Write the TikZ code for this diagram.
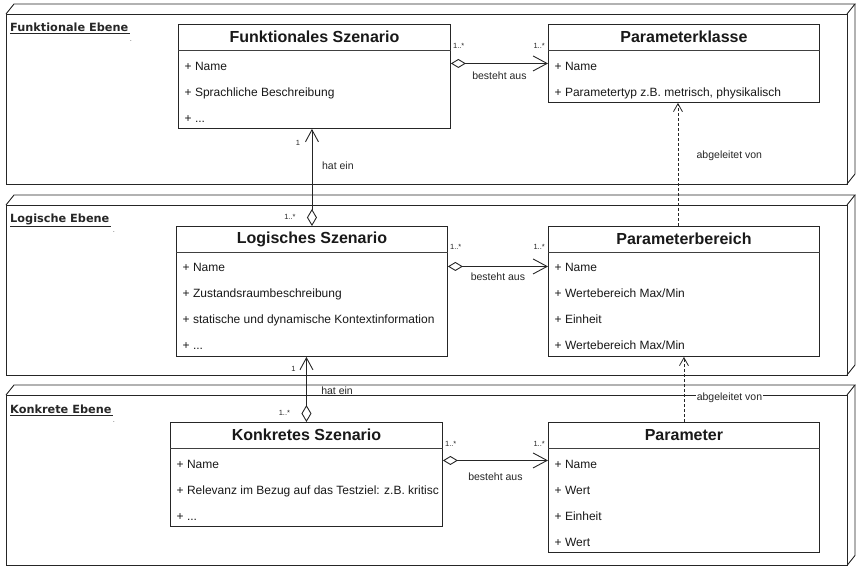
\documentclass[tikz,border=0pt]{standalone}
\usepackage{fontspec}
\setmainfont{Liberation Sans}
\newfontfamily\ebenefont{DejaVu Sans}
\usetikzlibrary{arrows.meta,calc}

% one layer drawn as a flat 3D box: front face, top face, right face
\newcommand\ebenebox[4]{%
  \draw[layerline] (#1,#2) rectangle (#3,#4);
  \draw[layerline] (#1,#2) -- (#1+8,#2-10) -- (#3+8,#2-10) -- (#3,#2);
  \draw[layerline] (#3+8,#2-10) -- (#3+8,#4-10) -- (#3,#4);
}
% the "more attributes" line, kept as a macro so foreach does not read it as a range
\newcommand\attrmore{+ ...}

\tikzset{
  layerline/.style={draw=black!85, line width=0.9pt, line join=miter},
  classbox/.style={draw=black!85, line width=0.9pt, anchor=north west, inner sep=0pt, fill=white},
  headrule/.style={draw=black!75, line width=0.9pt},
  classtitle/.style={font=\fontsize{16}{18}\selectfont\bfseries, anchor=center, inner sep=0pt, text=black!90},
  attr/.style={font=\fontsize{12}{14}\selectfont, anchor=base west, inner sep=0pt, text=black!90},
  layertitle/.style={font=\ebenefont\fontsize{11.3}{13}\selectfont\bfseries, anchor=base west, inner sep=0pt, text=black!85},
  tinydot/.style={font=\fontsize{6}{6}\selectfont, inner sep=0pt},
  mult/.style={font=\fontsize{7.5}{9}\selectfont, inner sep=0pt, text=black!85},
  rel/.style={font=\fontsize{10.5}{12}\selectfont, inner sep=0pt, text=black!85},
  aggregation/.style={draw=black!85, line width=0.9pt,
    {Diamond[open,length=15pt,width=9pt]}-{Straight Barb[length=14pt,width=15pt]}},
  hasone/.style={draw=black!85, line width=0.9pt,
    {Diamond[open,length=17pt,width=10pt]}-{Straight Barb[length=12pt,width=13pt]}},
  derived/.style={draw=black!85, line width=0.8pt, dash pattern=on 3pt off 2pt,
    -{Straight Barb[length=8pt,width=9pt]}},
}

\begin{document}
\begin{tikzpicture}[x=1pt,y=-1pt]
\useasboundingbox (0,0) rectangle (856,565);

% --- layers ---
\ebenebox{6}{14}{847}{184}
\ebenebox{6}{205}{847}{375}
\ebenebox{6}{395}{847}{565.5}

\node[layertitle] (ebene1) at (10,31.5) {\underline{Funktionale Ebene\kern2pt}};
\node[layertitle] (ebene2) at (10,222.5) {\underline{Logische Ebene\kern2pt}};
\node[layertitle] (ebene3) at (10,413.5) {\underline{Konkrete Ebene\kern2pt}};
\node[tinydot] (dot1) at (131,41) {.};
\node[tinydot] (dot2) at (114,232) {.};
\node[tinydot] (dot3) at (114,422) {.};

% --- classes ---
\node[classbox, minimum width=272pt, minimum height=104pt] (fs) at (178,24) {};
\node[classbox, minimum width=271pt, minimum height=78pt]  (pk) at (548,24) {};
\node[classbox, minimum width=271pt, minimum height=130pt] (ls) at (176,226) {};
\node[classbox, minimum width=271pt, minimum height=130pt] (pb) at (548,226) {};
\node[classbox, minimum width=272pt, minimum height=104pt] (ks) at (170,422) {};
\node[classbox, minimum width=271pt, minimum height=130pt] (pa) at (548,422) {};

\foreach \c/\t in {fs/Funktionales Szenario, pk/Parameterklasse,
                   ls/Logisches Szenario, pb/Parameterbereich,
                   ks/Konkretes Szenario, pa/Parameter}{
  \draw[headrule] ([yshift=-26pt]\c.north west) -- ([yshift=-26pt]\c.north east);
  \node[classtitle] (\c-title) at ([yshift=-13pt]\c.north) {\t};
}

\foreach \t [count=\i from 0] in {+ Name, + Sprachliche Beschreibung, \attrmore}
  \node[attr] (fs-a\i) at ([xshift=6.5pt, yshift={-(46.3+26*\i)*1pt}]fs.north west) {\t};
\foreach \t [count=\i from 0] in {+ Name, {+ Parametertyp z.B. metrisch, physikalisch}}
  \node[attr] (pk-a\i) at ([xshift=6.5pt, yshift={-(46.3+26*\i)*1pt}]pk.north west) {\t};
\foreach \t [count=\i from 0] in {+ Name, + Zustandsraumbeschreibung,
                                  + statische und dynamische Kontextinformation, \attrmore}
  \node[attr] (ls-a\i) at ([xshift=6.5pt, yshift={-(45.3+26*\i)*1pt}]ls.north west) {\t};
\foreach \t [count=\i from 0] in {+ Name, + Wertebereich Max/Min, + Einheit, + Wertebereich Max/Min}
  \node[attr] (pb-a\i) at ([xshift=6.5pt, yshift={-(45.3+26*\i)*1pt}]pb.north west) {\t};
\foreach \t [count=\i from 0] in {+ Name, {+ Relevanz im Bezug auf das Testziel: z.B. kritisc}, \attrmore}
  \node[attr] (ks-a\i) at ([xshift=6.5pt, yshift={-(46.3+26*\i)*1pt}]ks.north west) {\t};
\foreach \t [count=\i from 0] in {+ Name, + Wert, + Einheit, + Wert}
  \node[attr] (pa-a\i) at ([xshift=6.5pt, yshift={-(46.3+26*\i)*1pt}]pa.north west) {\t};

% --- "besteht aus" aggregations ---
\coordinate (r1s) at (fs.east |- pk.west);
\coordinate (r1e) at (pk.west);
\coordinate (r2s) at ($(ls.east)+(0,-25)$);
\coordinate (r2e) at ($(pb.west)+(0,-25)$);
\coordinate (r3s) at ($(ks.east)+(0,-14)$);
\coordinate (r3e) at ($(pa.west)+(0,-27)$);

\draw[aggregation] (r1s) -- node[rel, yshift=-12pt] (r1l) {besteht aus} (r1e);
\draw[aggregation] (r2s) -- node[rel, yshift=-10pt] (r2l) {besteht aus} (r2e);
\draw[aggregation] (r3s) -- node[rel, yshift=-16.5pt] (r3l) {besteht aus} (r3e);

\node[mult, anchor=west] (r1m1) at ($(r1s)+(2,-18)$) {1..*};
\node[mult, anchor=east] (r1m2) at ($(r1e)+(-3,-18)$) {1..*};
\node[mult, anchor=west] (r2m1) at ($(r2s)+(2,-20)$) {1..*};
\node[mult, anchor=east] (r2m2) at ($(r2e)+(-3,-20)$) {1..*};
\node[mult, anchor=west] (r3m1) at ($(r3s)+(2,-17)$) {1..*};
\node[mult, anchor=east] (r3m2) at ($(r3e)+(-3,-17)$) {1..*};

% --- "hat ein" associations between the scenario levels ---
\coordinate (h1e) at (ls.north |- fs.south);
\draw[hasone] (ls.north) -- (h1e);
\node[mult] (h1m1) at ($(h1e)+(-14,14)$) {1};
\node[mult] (h1m2) at ($(ls.north)+(-22,-9)$) {1..*};
\node[rel, anchor=west] (h1l) at ($(h1e)!0.38!(ls.north)+(10,0)$) {hat ein};

\coordinate (h2e) at (ks.north |- ls.south);
\draw[hasone] (ks.north) -- (h2e);
\node[mult] (h2m1) at ($(h2e)+(-13,12)$) {1};
\node[mult] (h2m2) at ($(ks.north)+(-22,-9)$) {1..*};
\node[rel, anchor=west, fill=white, inner sep=0.6pt] (h2l) at ($(h2e)+(14,34)$) {hat ein};

% --- "abgeleitet von" dependencies between parameter levels ---
\coordinate (d1s) at ($(pb.north)+(-6,0)$);
\draw[derived] (d1s) -- (d1s |- pk.south);
\node[rel, anchor=west] (d1l) at ($(d1s |- pk.south)+(18.5,53)$) {abgeleitet von};

\coordinate (d2s) at (pa.north);
\draw[derived] (d2s) -- (d2s |- pb.south);
\node[rel, anchor=west, fill=white, inner sep=0.6pt] (d2l) at ($(d2s |- pb.south)+(12,41)$) {abgeleitet von};
\end{tikzpicture}
\end{document}
